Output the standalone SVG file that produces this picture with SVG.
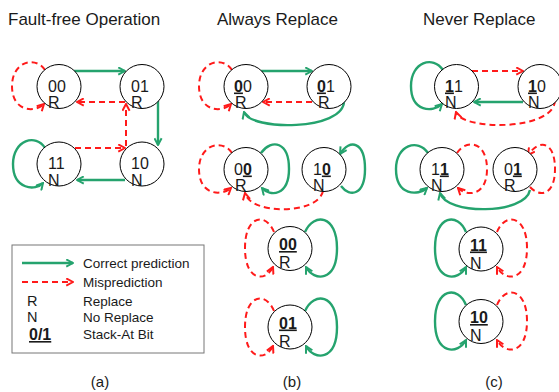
<svg xmlns="http://www.w3.org/2000/svg" width="559" height="392" viewBox="0 0 559 392">
<style>
text{font-family:"Liberation Sans",Arial,sans-serif;fill:#1a1a1a}
.title{font-size:17px}
.cap{font-size:15px;text-anchor:middle}
.lg{font-size:13.5px}
.nt{font-size:16px}
.b{font-weight:bold;text-decoration:underline}
circle.n{fill:#fff;stroke:#000;stroke-width:1}
.g{fill:none;stroke:#25a36e;stroke-width:2.4;marker-end:url(#ag)}
.r{fill:none;stroke:#ff1a1a;stroke-width:2;stroke-dasharray:6 4;marker-end:url(#ar)}
</style>
<defs>
<marker id="ag" viewBox="0 0 10 10" refX="8.5" refY="5" markerWidth="9" markerHeight="9" markerUnits="userSpaceOnUse" orient="auto"><path d="M1,1 L8.5,5 L1,9" fill="none" stroke="#25a36e" stroke-width="2.2"/></marker>
<marker id="ar" viewBox="0 0 10 10" refX="8.5" refY="5" markerWidth="9" markerHeight="9" markerUnits="userSpaceOnUse" orient="auto"><path d="M1,1 L8.5,5 L1,9" fill="none" stroke="#ff1a1a" stroke-width="2.2"/></marker>
</defs>
<rect width="559" height="392" fill="#fff"/>

<text class="title" x="8" y="25">Fault-free Operation</text>
<text class="title" x="217" y="25">Always Replace</text>
<text class="title" x="423" y="25">Never Replace</text>
<text class="cap" x="100" y="387">(a)</text>
<text class="cap" x="292" y="387">(b)</text>
<text class="cap" x="494" y="387">(c)</text>

<g id="connectors">
<!-- panel a -->
<path class="g" d="M74 71 L125 71"/>
<path class="r" d="M125 102 L77 102"/>
<path class="r" d="M126 146 L126 104"/>
<path class="r" d="M75 148 L125 148"/>
<path class="g" d="M158 101 L158 145"/>
<path class="g" d="M125 180 L77 180"/>
<path class="r" d="M45 70 C35 55 12 62 12 86 C12 112 35 113 44 104"/>
<path class="g" d="M45 148 C36 133 13 140 13 164 C13 190 36 191 43 183"/>
<!-- panel b top -->
<path class="g" d="M261 71 L312 71"/>
<path class="r" d="M312 102 L263 102"/>
<path class="g" d="M344 101 C344 131 250 131 244 112"/>
<path class="r" d="M232 70 C222 55 199 62 199 86 C199 112 222 113 231 104"/>
<!-- panel b row 2 -->
<path class="r" d="M232 153 C222 138 199 145 199 169 C199 196 222 196 231 188"/>
<path class="g" d="M261 153 C272 138 289 142 289 169 C289 196 270 197 262 188"/>
<path class="g" d="M341 186 C350 198 365 195 365 169 C365 142 350 138 340 154"/>
<path class="r" d="M323 191 C318 215 250 215 245 193"/>
<!-- panel b rows 3,4 -->
<path class="r" d="M274 232 C266 212 245 215 245 248 C245 282 266 282 273 267"/>
<path class="g" d="M305 232 C314 212 337 215 337 248 C337 282 314 282 306 267"/>
<path class="r" d="M274 311 C266 291 245 294 245 327 C245 361 266 361 273 346"/>
<path class="g" d="M305 311 C314 291 337 294 337 327 C337 361 314 361 306 346"/>
<!-- panel c top -->
<path class="r" d="M472 71 L523 71"/>
<path class="g" d="M523 102 L474 102"/>
<path class="r" d="M555 100 C555 131 462 131 456 112"/>
<path class="g" d="M443 70 C433 55 411 62 411 86 C411 112 433 113 442 104"/>
<!-- panel c row 2 -->
<path class="g" d="M428 153 C418 138 396 145 396 169 C396 196 418 196 427 188"/>
<path class="r" d="M457 153 C467 138 487 142 487 169 C487 196 467 197 458 188"/>
<path class="r" d="M530 187 C540 198 555 195 555 169 C555 142 540 138 528 155"/>
<path class="g" d="M530 190 C525 215 446 215 440 193"/>
<!-- panel c rows 3,4 -->
<path class="g" d="M466 232 C458 212 435 215 435 248 C435 282 458 282 466 267"/>
<path class="r" d="M497 232 C505 212 527 215 527 248 C527 282 505 282 497 267"/>
<path class="g" d="M466 305 C458 285 435 288 435 321 C435 355 458 355 466 340"/>
<path class="r" d="M497 305 C505 285 527 288 527 321 C527 355 505 355 497 340"/>
</g>

<!-- panel a nodes -->
<g id="a00"><circle class="n" cx="59" cy="86.5" r="22"/><text class="nt" x="48" y="91.5">00</text><text class="nt" x="48" y="108">R</text></g>
<g id="a01"><circle class="n" cx="142" cy="86.5" r="22"/><text class="nt" x="131" y="91.5">01</text><text class="nt" x="131" y="108">R</text></g>
<g id="a11"><circle class="n" cx="59" cy="164" r="22"/><text class="nt" x="48" y="169">11</text><text class="nt" x="48" y="185.5">N</text></g>
<g id="a10"><circle class="n" cx="142" cy="164" r="22"/><text class="nt" x="131" y="169">10</text><text class="nt" x="131" y="185.5">N</text></g>

<!-- panel b nodes -->
<g id="b00"><circle class="n" cx="246" cy="86.5" r="22"/><text class="nt" x="234" y="91.5"><tspan class="b">0</tspan>0</text><text class="nt" x="235" y="108">R</text></g>
<g id="b01"><circle class="n" cx="329" cy="86.5" r="22"/><text class="nt" x="317" y="91.5"><tspan class="b">0</tspan>1</text><text class="nt" x="318" y="108">R</text></g>
<g id="b00x"><circle class="n" cx="246" cy="169.5" r="22"/><text class="nt" x="234" y="174.5">0<tspan class="b">0</tspan></text><text class="nt" x="235" y="191">R</text></g>
<g id="b10x"><circle class="n" cx="324" cy="169.5" r="22"/><text class="nt" x="313" y="174.5">1<tspan class="b">0</tspan></text><text class="nt" x="313" y="191">N</text></g>
<g id="b00u"><circle class="n" cx="290" cy="248.5" r="22"/><text class="nt b" x="279" y="250">00</text><text class="nt" x="279" y="268">R</text></g>
<g id="b01u"><circle class="n" cx="290" cy="327" r="22"/><text class="nt b" x="279" y="328.5">01</text><text class="nt" x="279" y="346.5">R</text></g>

<!-- panel c nodes -->
<g id="c11"><circle class="n" cx="456.5" cy="86.5" r="22"/><text class="nt" x="445" y="91.5"><tspan class="b">1</tspan>1</text><text class="nt" x="445" y="108">N</text></g>
<g id="c10"><circle class="n" cx="540" cy="86.5" r="22"/><text class="nt" x="528" y="91.5"><tspan class="b">1</tspan>0</text><text class="nt" x="528" y="108">N</text></g>
<g id="c11x"><circle class="n" cx="442" cy="169.5" r="22"/><text class="nt" x="431" y="174.5">1<tspan class="b">1</tspan></text><text class="nt" x="431" y="191">N</text></g>
<g id="c01x"><circle class="n" cx="515" cy="169.5" r="22"/><text class="nt" x="504" y="174.5">0<tspan class="b">1</tspan></text><text class="nt" x="504" y="191">R</text></g>
<g id="c11u"><circle class="n" cx="481" cy="249" r="22"/><text class="nt b" x="470" y="250.5">11</text><text class="nt" x="470" y="268.5">N</text></g>
<g id="c10u"><circle class="n" cx="481" cy="321.5" r="22"/><text class="nt b" x="470" y="323">10</text><text class="nt" x="470" y="341">N</text></g>

<!-- legend -->
<g id="legend">
<rect x="12" y="245" width="192" height="108" fill="#fff" stroke="#777" stroke-width="1"/>
<path class="g" d="M22 263 L73 263"/>
<path class="r" d="M22 282 L73 282"/>
<text class="lg" x="83" y="268">Correct prediction</text>
<text class="lg" x="83" y="287">Misprediction</text>
<text class="lg" x="27" y="306" style="font-size:14.5px">R</text>
<text class="lg" x="83" y="306">Replace</text>
<text class="lg" x="27" y="322" style="font-size:14.5px">N</text>
<text class="lg" x="83" y="322">No Replace</text>
<text class="lg b" x="29" y="340" style="font-size:16px">0/1</text>
<text class="lg" x="83" y="339">Stack-At Bit</text>
</g>
</svg>
